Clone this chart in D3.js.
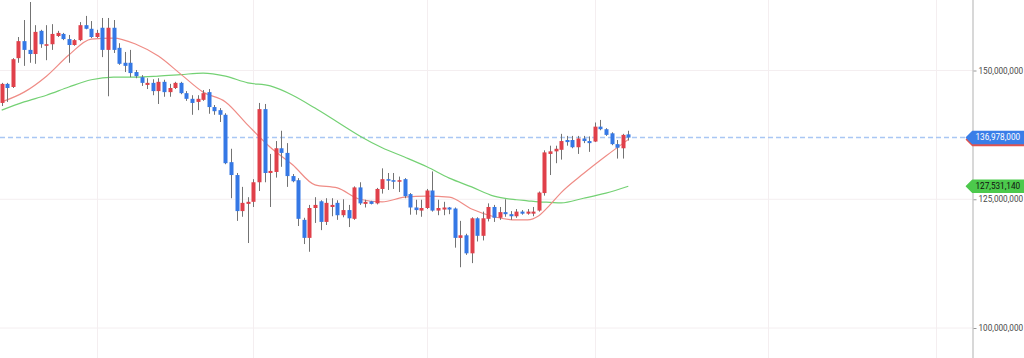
<!DOCTYPE html>
<html>
<head>
<meta charset="utf-8">
<script src="https://cdn.jsdelivr.net/npm/d3@7"></script>
<style>
  html, body { margin: 0; padding: 0; background: #ffffff; }
  svg { display: block; font-family: Roboto, "Noto Sans", sans-serif; }
</style>
</head>
<body>
<svg id="chart" width="1024" height="358"></svg>
<script>
// ---- data (prices in millions of KRW) ----
const opens = [143.7,147.4,146.8,152.4,155.7,154.0,153.2,157.7,154.8,155.1,156.7,157.1,156.1,154.95,155.9,158.8,158.1,156.5,158.3,154.0,
  158.3,154.4,151.5,151.5,149.7,148.7,147.2,147.6,146.0,147.8,145.8,146.6,147.6,145.6,144.5,143.9,144.3,145.8,142.9,142.3,
  141.4,132.2,129.7,122.7,124.1,124.5,128.3,142.5,130.1,130.3,134.9,134.0,129.5,128.7,121.0,117.5,123.3,124.6,120.6,123.5,
  124.3,121.9,122.9,121.2,127.3,124.1,124.6,124.2,127.0,128.9,128.7,128.4,128.9,126.0,123.4,122.8,123.3,126.7,122.8,123.0,
  123.4,123.2,117.5,118.0,114.5,121.3,117.9,121.2,123.5,121.4,122.5,122.1,121.7,122.6,122.2,122.2,122.8,126.2,133.8,134.3,
  134.6,136.5,136.5,135.1,136.8,136.3,136.2,139.1,138.6,137.8,135.7,134.9,137.6];
const highs = [147.6,147.6,152.4,156.5,159.8,163.3,158.8,157.9,158.8,159.0,157.7,157.3,156.9,156.1,159.4,160.6,159.6,157.9,160.2,160.2,
  159.8,155.3,153.6,154.0,150.1,149.1,148.5,148.3,148.5,148.2,147.4,147.8,147.8,146.0,145.2,145.2,146.2,146.4,143.3,142.7,
  141.7,134.8,130.1,127.4,125.4,128.9,143.7,143.5,133.8,136.3,138.3,135.9,129.9,129.1,121.4,123.9,125.4,124.8,125.2,125.2,
  124.8,125.0,123.9,127.5,128.3,124.9,124.7,127.2,131.0,130.1,130.1,129.4,129.1,126.2,124.9,124.9,127.0,130.4,124.9,124.5,
  123.5,123.4,120.8,118.3,121.5,121.5,122.6,124.2,123.9,123.5,125.0,122.7,123.1,122.9,123.1,123.5,126.5,134.5,135.4,135.4,
  137.7,137.3,137.3,137.3,137.3,137.2,139.9,140.4,138.8,138.0,136.5,137.7,138.3];
const lows = [143.1,143.9,146.6,151.5,150.9,151.5,151.3,154.4,152.0,154.0,156.5,155.9,151.5,154.8,155.7,158.0,156.3,156.3,152.6,145.0,
  153.4,151.1,149.7,148.7,148.5,147.0,146.4,145.2,143.5,144.9,144.9,146.4,145.4,144.1,141.4,142.3,144.1,141.6,141.4,140.0,
  131.8,125.2,120.8,121.6,116.5,123.5,126.6,128.3,123.5,129.2,131.3,127.4,128.3,119.8,116.3,114.8,120.4,119.0,120.0,121.7,
  121.0,121.5,119.6,121.0,123.9,123.4,124.0,124.0,126.1,126.8,127.0,126.4,125.2,122.0,122.0,121.6,123.1,122.6,121.9,121.9,
  122.1,115.6,111.8,114.2,112.6,116.8,117.0,120.7,120.6,121.0,121.6,121.0,121.4,122.0,122.0,121.7,122.6,125.7,129.7,132.0,
  132.7,135.4,134.9,133.8,135.9,134.2,136.1,138.4,137.3,135.5,132.9,132.9,136.4];
const closes = [147.4,146.6,152.2,155.7,154.0,153.2,157.5,155.1,155.1,157.1,157.3,156.1,154.95,155.9,158.8,158.1,156.5,157.3,154.0,158.3,
  154.0,151.3,150.9,149.5,148.9,147.6,147.6,146.0,147.8,145.8,146.6,147.6,145.6,144.5,143.7,144.5,145.6,142.9,142.1,141.4,
  132.0,129.7,122.7,124.3,124.5,128.3,142.5,130.1,130.5,134.9,134.0,129.5,128.5,121.2,117.5,123.3,123.9,120.6,124.3,123.9,
  121.9,122.9,121.3,127.3,124.2,124.5,124.1,127.0,128.9,128.6,128.4,128.7,125.6,123.4,122.9,123.3,126.7,122.8,123.3,123.4,
  123.0,117.5,118.0,114.5,121.3,117.9,121.3,123.5,121.4,122.5,122.1,121.7,122.6,122.2,122.6,122.6,126.3,134.1,134.3,134.8,
  136.3,136.1,135.1,136.8,136.3,135.9,139.1,138.6,137.5,135.7,135.0,137.5,136.978];

// moving averages at these candle indices
const maIndex = [0,4,8,12,16,20,24,28,32,36,40,44,48,52,56,60,64,68,72,76,80,84,88,92,94,96,98,100,104,108,112];
const maShort = [143.9,145.8,148.9,153.0,156.1,156.3,155.1,152.8,149.3,145.8,143.9,139.4,135.1,131.7,127.8,127.2,125.0,124.5,125.4,125.6,125.4,123.1,121.6,121.0,121.0,121.8,123.9,126.3,130.0,133.4,136.6];
const maLong  = [142.3,143.9,145.2,146.8,148.2,148.7,148.7,148.9,149.2,149.5,148.9,147.6,147.0,145.2,142.7,140.0,137.3,135.0,133.2,131.3,129.1,127.4,125.6,124.9,124.7,124.5,124.4,124.3,125.2,126.2,127.53114];

const yTicks = [100, 125, 150];
const yTickLabels = ["100,000,000", "125,000,000", "150,000,000"];
const monthStarts = [17, 45, 76, 106, 137, 167];
const lastPrice = 136.978;
const lastPriceLabel = "136,978,000";
const lastLongMA = 127.53114;
const lastLongMALabel = "127,531,140";

// ---- layout ----
const W = 1024, H = 358, axisX = 973;
const svg = d3.select("#chart");
const x = d3.scaleLinear().domain([0, 167]).range([1.7, 936]);
const y = d3.scaleLinear().domain([100, 150]).range([328, 70.5]);

const UP = "#e0404a", DOWN = "#3578e5", WICK = "#737373";

// grid
svg.append("g").selectAll("line").data(yTicks).join("line")
  .attr("x1", 0).attr("x2", axisX).attr("y1", d => y(d)).attr("y2", d => y(d))
  .attr("stroke", "#f4eef0").attr("stroke-width", 1);
svg.append("g").selectAll("line").data(monthStarts).join("line")
  .attr("x1", d => Math.round(x(d)) + 0.5).attr("x2", d => Math.round(x(d)) + 0.5)
  .attr("y1", 0).attr("y2", H)
  .attr("stroke", "#f4eef0").attr("stroke-width", 1);

// last price dashed line
svg.append("line")
  .attr("x1", 0).attr("x2", axisX).attr("y1", y(lastPrice)).attr("y2", y(lastPrice))
  .attr("stroke", "#a9c7f4").attr("stroke-width", 1.5).attr("stroke-dasharray", "5,3");

// moving averages
const maLine = vals => d3.line().x((d, i) => x(maIndex[i])).y(d => y(d)).curve(d3.curveMonotoneX)(vals);
svg.append("path").attr("d", maLine(maLong)).attr("fill", "none").attr("stroke", "#74d174").attr("stroke-width", 1.2);
svg.append("path").attr("d", maLine(maShort)).attr("fill", "none").attr("stroke", "#ef8c86").attr("stroke-width", 1.2);

// candles
const candles = opens.map((o, i) => ({ i, o, h: highs[i], l: lows[i], c: closes[i] }));
const cg = svg.append("g");
cg.selectAll("line").data(candles).join("line")
  .attr("x1", d => Math.round(x(d.i)) + 0.5).attr("x2", d => Math.round(x(d.i)) + 0.5)
  .attr("y1", d => y(d.h)).attr("y2", d => y(d.l))
  .attr("stroke", WICK).attr("stroke-width", 1);
const bw = 4;
cg.selectAll("rect").data(candles).join("rect")
  .attr("x", d => Math.round(x(d.i)) + 0.5 - bw / 2)
  .attr("width", bw)
  .attr("y", d => Math.min(y(d.o), y(d.c)))
  .attr("height", d => Math.max(1.5, Math.abs(y(d.o) - y(d.c))))
  .attr("fill", d => d.c >= d.o ? UP : DOWN);

// right axis
svg.append("line").attr("x1", axisX).attr("x2", axisX).attr("y1", 0).attr("y2", H)
  .attr("stroke", "#cbcbcb").attr("stroke-width", 1.5);
const axis = d3.axisRight(y).tickValues(yTicks).tickSize(3).tickPadding(2)
  .tickFormat((d, i) => yTickLabels[i]);
const ag = svg.append("g").attr("transform", `translate(${axisX + 0.5},0)`).call(axis);
ag.select(".domain").remove();
ag.selectAll(".tick line").attr("stroke", "#999");
ag.selectAll(".tick text").attr("fill", "#4a4a4a").attr("font-size", 8.2)
  .attr("font-family", "Roboto, sans-serif");

// price tags
function tag(val, fill, label, textFill, dy) {
  const yc = y(val) + (dy || 0);
  const hh = 6;
  const g = svg.append("g");
  g.append("path")
    .attr("d", `M${axisX - 6.5},${yc} L${axisX - 0.5},${yc - hh} H${W + 5} V${yc + hh} H${axisX - 0.5} Z`)
    .attr("fill", fill).attr("stroke", fill).attr("stroke-linejoin", "round").attr("stroke-width", 1.5);
  if (label) {
    g.append("text").attr("x", axisX + 2.5).attr("y", yc).attr("dy", "0.35em")
      .attr("fill", textFill).attr("font-size", 8.2).attr("font-family", "Roboto, sans-serif")
      .text(label);
  }
}
tag(maShort[maShort.length - 1], "#e0534f", null, null, 0);
tag(lastPrice, "#3a7ee8", lastPriceLabel, "#ffffff", 0);
tag(lastLongMA, "#4cc94c", lastLongMALabel, "#111111", 0);
</script>
</body>
</html>
